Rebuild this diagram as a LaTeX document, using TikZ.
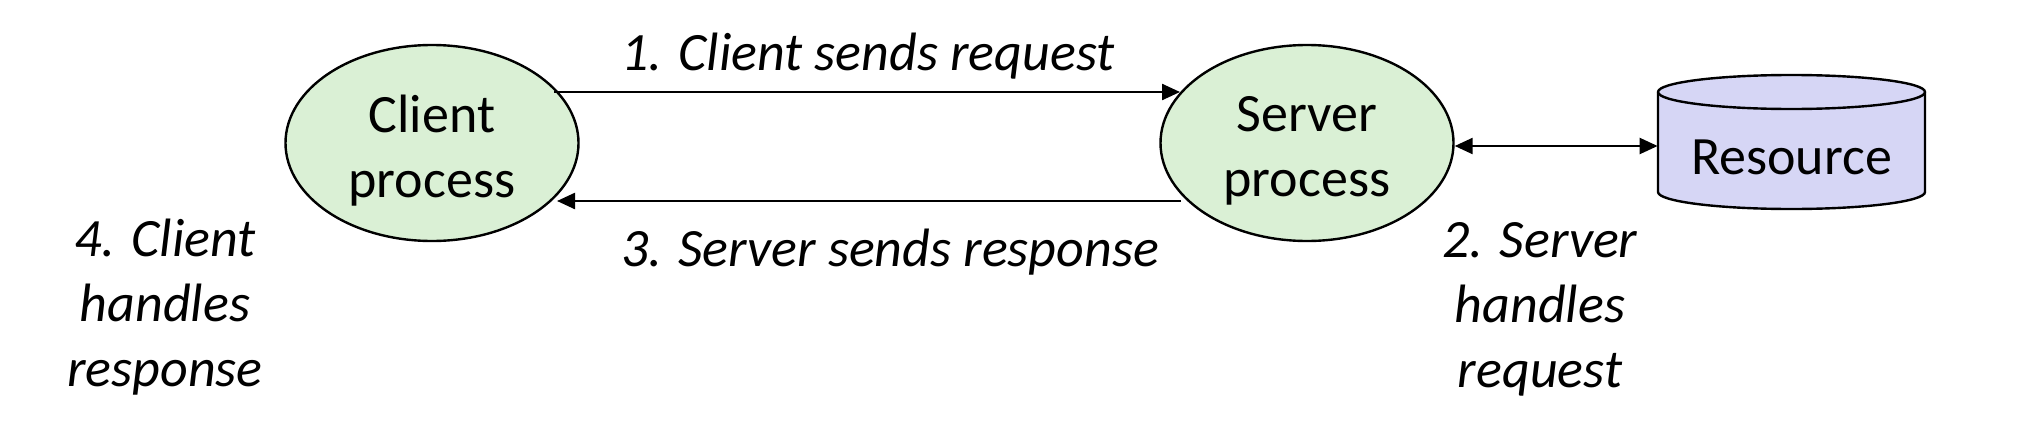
\documentclass[tikz,border=0pt]{standalone}
\usepackage{fontspec}
\setmainfont{Carlito}
\usetikzlibrary{shapes.geometric,arrows.meta}
\definecolor{procgreen}{RGB}{218,240,213}
\definecolor{reslav}{RGB}{214,214,245}
\begin{document}
\begin{tikzpicture}[x=0.5pt,y=-0.5pt,
  txt/.style={align=center, inner sep=0pt, font=\fontsize{27}{32.5}\selectfont},
  proc/.style={ellipse, draw, line width=1.2pt, fill=procgreen, minimum width=146.5pt, minimum height=98pt, inner sep=0pt},
  lbl/.style={align=center, font=\fontsize{27}{32.5}\selectfont\itshape, inner sep=0pt},
  conn/.style={line width=1.2pt, -{Triangle[length=9pt,width=8pt]}}]
\useasboundingbox (0,0) rectangle (2022,428);
\node[proc, label={[txt, yshift=-4pt]center:Client\\process}] (client) at (432,143) {};
\node[proc, label={[txt, yshift=-4pt]center:Server\\process}] (server) at (1307,143) {};
% resource cylinder
\path[fill=reslav, draw, line width=1.2pt]
  (1658,92) -- (1658,192) arc[start angle=180, end angle=0, x radius=133.5, y radius=17] -- (1925,92)
  arc[start angle=0, end angle=-180, x radius=133.5, y radius=17] -- cycle;
\draw[line width=1.2pt] (1658,92) arc[start angle=180, end angle=0, x radius=133.5, y radius=17];
\node[txt, minimum width=133.5pt] (res) at (1791.5,157) {Resource};
\coordinate (c1) at (554,92);
\coordinate (s1) at (1180,92);
\coordinate (s3) at (1181,201);
\coordinate (c3) at (557,201);
\draw[conn] (c1) -- (s1);
\draw[conn] (s3) -- (c3);
\draw[conn, {Triangle[length=9pt,width=8pt]}-{Triangle[length=9pt,width=8pt]}] (server.east |- 0,146) -- (res.west |- 0,146);
\node[lbl] (l1) at (868,56) {1. Client sends request};
\node[lbl] (l3) at (890,252) {3. Server sends response};
\node[lbl] (l4) at (165,307) {4. Client\\handles\\response};
\node[lbl] (l2) at (1540,309) {2. Server\\handles\\request};
\end{tikzpicture}
\end{document}
